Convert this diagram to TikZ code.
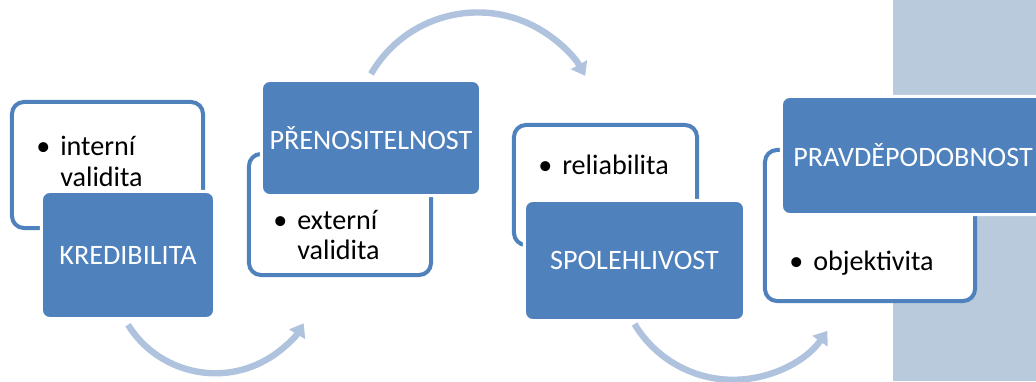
\documentclass[tikz,border=0pt]{standalone}
\usepackage{fontspec}
\setmainfont{Carlito}
\usetikzlibrary{arrows.meta}
\definecolor{boxblue}{HTML}{4F81BD}
\definecolor{flowblue}{HTML}{B0C3DE}
\definecolor{sideblue}{HTML}{B9CADC}
\newcommand{\bul}[1]{\llap{\textbullet\hspace{7pt}}#1}

\begin{document}
\begin{tikzpicture}[x=0.025cm, y=0.025cm,
    every node/.style={font=\fontsize{20pt}{22pt}\selectfont},
    frame/.style={draw=boxblue, line width=0.1cm, rounded corners=0.3cm, fill=white, inner sep=0pt},
    head/.style={fill=boxblue, draw=white, line width=0.075cm, rounded corners=0.2cm, text=white, inner sep=0pt},
    item/.style={anchor=west, align=left, inner sep=0pt},
    flow/.style={draw=flowblue, line width=0.16cm, -{Triangle[width=0.45cm, length=0.32cm]}}]
    \useasboundingbox (0,0) rectangle (1036,381);
    \clip (0,0) rectangle (1036,381);
    \fill[sideblue] (893,0) rectangle (1036,381);

    \node[frame, minimum width=4.775cm, minimum height=3.15cm] (kredf) at (107.5,216) {};
    \node[frame, minimum width=4.55cm, minimum height=3.025cm] (prenf) at (340,166.5) {};
    \node[frame, minimum width=4.575cm, minimum height=3cm] (spolf) at (605.5,196) {};
    \node[frame, minimum width=5.25cm, minimum height=3.775cm] (pravf) at (870,155.5) {};

    \node[head, minimum width=4.325cm, minimum height=3.175cm] (kred) at (128,126) {KREDIBILITA};
    \node[head, minimum width=5.475cm, minimum height=2.875cm] (pren) at (371,243) {PŘENOSITELNOST};
    \node[head, minimum width=5.5cm, minimum height=3cm] (spol) at (634.5,120.5) {SPOLEHLIVOST};
    \node[head, minimum width=6.575cm, minimum height=2.95cm] (prav) at (913,225.5) {PRAVDĚPODOBNOST};

    \node[item] (kredi) at (60,220) {\bul{interní}\\validita};
    \node[item] (preni) at (297,146) {\bul{externí}\\validita};
    \node[item] (spoli) at (562,216) {\bul{reliabilita}};
    \node[item] (pravi) at (813,118) {\bul{objektivita}};

    \coordinate (kreda) at ([yshift=-0.12cm]kred.south);
    \coordinate (prena) at ([yshift=0.125cm]pren.north);
    \coordinate (spola) at ([yshift=-0.05cm]spol.south);
    \draw[flow] (kreda) arc[start angle=212, end angle=329, radius=2.575cm];
    \draw[flow] (prena) arc[start angle=150, end angle=29, radius=3.075cm];
    \draw[flow] (spola) arc[start angle=211, end angle=325, radius=2.875cm];
\end{tikzpicture}
\end{document}
